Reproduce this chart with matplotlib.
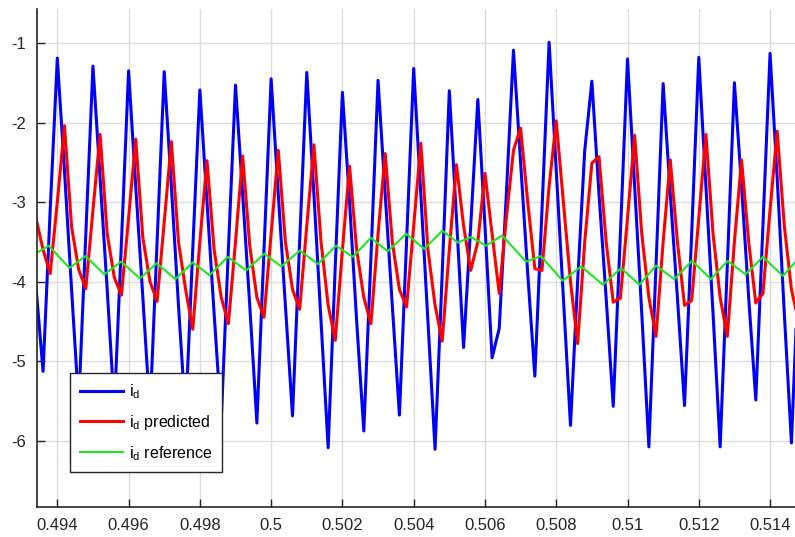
import numpy as np
import matplotlib.pyplot as plt

plt.rcParams['font.family'] = ['Liberation Sans', 'DejaVu Sans']
plt.rcParams['mathtext.default'] = 'regular'
plt.rcParams['axes.unicode_minus'] = False

# sampled at 0.2 ms
t0 = 0.4934
dt = 0.0002

i_d = [-4.06, -5.13, -3.10, -1.19, -2.60, -4.10, -5.55, -3.40, -1.29, -2.70,
       -4.10, -5.60, -3.50, -1.35, -2.80, -4.20, -5.65, -3.50, -1.36, -2.80,
       -4.30, -5.70, -3.60, -1.59, -3.00, -4.40, -5.75, -3.60, -1.53, -2.90,
       -4.30, -5.78, -3.60, -1.45, -2.90, -4.30, -5.69, -3.50, -1.37, -2.90,
       -4.50, -6.09, -3.80, -1.62, -3.00, -4.50, -5.88, -3.70, -1.47, -2.90,
       -4.30, -5.68, -3.50, -1.32, -2.90, -4.50, -6.11, -3.90, -1.60, -3.20,
       -4.83, -3.30, -1.71, -3.30, -4.96, -4.59, -2.90, -1.09, -2.50, -3.90,
       -5.19, -3.10, -0.99, -2.60, -4.20, -5.81, -4.00, -2.35, -1.48, -2.90,
       -4.20, -5.57, -3.40, -1.20, -2.80, -4.40, -6.08, -3.80, -1.51, -2.90,
       -4.20, -5.56, -3.40, -1.18, -2.80, -4.40, -6.08, -3.80, -1.50, -2.80,
       -4.20, -5.49, -3.30, -1.13, -2.70, -4.40, -6.03, -3.80]

i_d_pred = [-3.20, -3.60, -3.90, -3.00, -2.04, -3.31, -3.85, -4.09, -3.10, -2.15,
            -3.40, -3.95, -4.17, -3.20, -2.21, -3.45, -4.00, -4.25, -3.25, -2.24,
            -3.50, -4.10, -4.60, -3.50, -2.48, -3.60, -4.20, -4.53, -3.50, -2.42,
            -3.55, -4.20, -4.45, -3.40, -2.35, -3.50, -4.10, -4.35, -3.30, -2.28,
            -3.50, -4.30, -4.74, -3.60, -2.55, -3.60, -4.20, -4.53, -3.40, -2.39,
            -3.50, -4.10, -4.32, -3.30, -2.26, -3.60, -4.30, -4.75, -3.60, -2.53,
            -3.30, -3.86, -3.50, -2.64, -3.40, -4.15, -3.20, -2.35, -2.07, -3.00,
            -3.84, -3.86, -2.80, -1.98, -3.00, -4.00, -4.78, -3.50, -2.51, -2.43,
            -3.50, -4.26, -4.21, -3.20, -2.16, -3.40, -4.20, -4.69, -3.50, -2.47,
            -3.50, -4.30, -4.24, -3.20, -2.15, -3.40, -4.20, -4.69, -3.50, -2.47,
            -3.50, -4.27, -4.15, -3.10, -2.11, -3.30, -4.10, -4.50]

# reference: extremes
t_ref = [0.49340, 0.49376, 0.49434, 0.49479, 0.49532, 0.49579, 0.49632, 0.49679,
         0.49731, 0.49780, 0.49827, 0.49878, 0.49930, 0.49981, 0.50028, 0.50081,
         0.50131, 0.50182, 0.50229, 0.50280, 0.50327, 0.50379, 0.50430, 0.50480,
         0.50524, 0.50561, 0.50603, 0.50648, 0.50715, 0.50757, 0.50818, 0.50870,
         0.50931, 0.50982, 0.51033, 0.51080, 0.51131, 0.51181, 0.51234, 0.51281,
         0.51331, 0.51380, 0.51436, 0.51470]
i_d_ref = [-3.645, -3.55, -3.83, -3.68, -3.91, -3.75, -3.96, -3.77,
           -3.97, -3.76, -3.92, -3.69, -3.86, -3.65, -3.81, -3.61,
           -3.78, -3.55, -3.69, -3.45, -3.62, -3.40, -3.59, -3.36,
           -3.51, -3.44, -3.55, -3.42, -3.75, -3.68, -3.99, -3.81,
           -4.04, -3.83, -4.04, -3.80, -3.97, -3.74, -3.97, -3.74,
           -3.91, -3.69, -3.93, -3.76]

xticks = [0.494, 0.496, 0.498, 0.5, 0.502, 0.504, 0.506, 0.508, 0.51, 0.512, 0.514]
xticklabels = ['0.494', '0.496', '0.498', '0.5', '0.502', '0.504', '0.506', '0.508',
               '0.51', '0.512', '0.514']
yticks = [-6, -5, -4, -3, -2, -1]

t = np.round(t0 + dt * np.arange(len(i_d)), 4)

fig = plt.figure(figsize=(7.95, 5.37), dpi=100)
ax = fig.add_axes([37 / 795, 30 / 537, 758 / 795, 498 / 537])

ax.plot(t, i_d, color='#0000ff', lw=2.2, label='$i_d$')
ax.plot(t, i_d_pred, color='#ff0000', lw=2.2, label='$i_d$ predicted')
ax.plot(t_ref, i_d_ref, color='#1ee61e', lw=1.5, label='$i_d$ reference')

ax.set_xlim(0.49343, 0.51470)
ax.set_ylim(-6.836, -0.572)
ax.set_xticks(xticks)
ax.set_xticklabels(xticklabels)
ax.set_yticks(yticks)
ax.set_yticklabels([str(v) for v in yticks])
ax.grid(True, color='#dcdcdc', lw=1)
ax.set_axisbelow(True)
ax.tick_params(direction='in', length=6, width=1, colors='#262626',
               labelsize=12, pad=8)
ax.spines['top'].set_visible(False)
ax.spines['right'].set_visible(False)
for s in ('left', 'bottom'):
    ax.spines[s].set_color('#262626')
    ax.spines[s].set_linewidth(1.2)

leg = ax.legend(loc='upper left', bbox_to_anchor=(0.0435, 0.2697), borderaxespad=0,
                fontsize=11.5, handlelength=2.75, handletextpad=0.35,
                labelspacing=0.75, borderpad=0.6, fancybox=False, framealpha=1)
leg.get_frame().set_edgecolor('#262626')
leg.get_frame().set_linewidth(1)

fig.savefig('out.png', dpi=100)
